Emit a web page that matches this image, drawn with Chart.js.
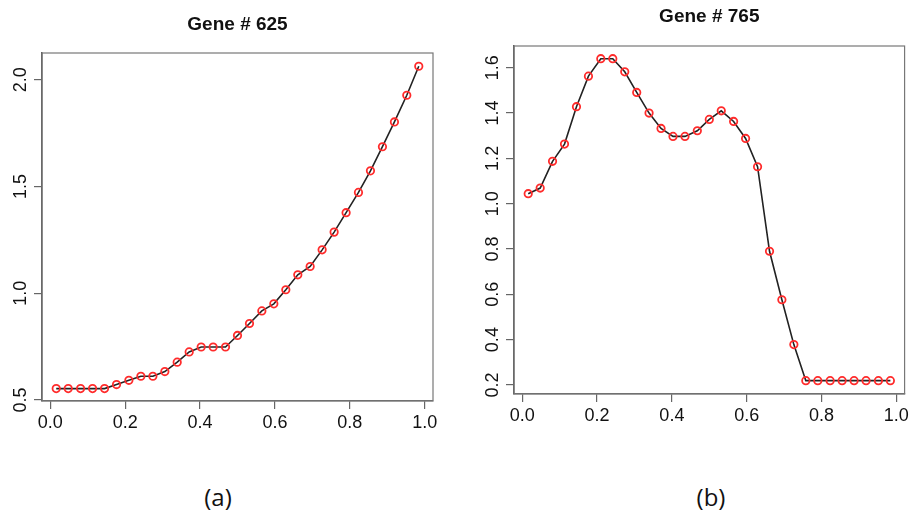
<!DOCTYPE html>
<html>
<head>
<meta charset="utf-8">
<script src="https://cdn.jsdelivr.net/npm/chart.js@4.4.1/dist/chart.umd.min.js"></script>
<style>
  body { margin: 0; background: #fff; width: 912px; height: 518px; position: relative; overflow: hidden; }
  canvas { position: absolute; top: 0; }
  #c1 { left: 0; }
  #c2 { left: 456px; }
  .panel { position: absolute; top: 480px; font-family: "Open Sans", sans-serif; font-size: 24px; color: #111; transform: translateX(-50%); }
</style>
</head>
<body>
<canvas id="c1" width="450" height="440"></canvas>
<canvas id="c2" width="456" height="440"></canvas>
<div class="panel" style="left:218px">(a)</div>
<div class="panel" style="left:711px">(b)</div>
<script>
// sample positions (shared by both genes)
const xs = [0.016, 0.048, 0.081, 0.113, 0.145, 0.177, 0.210, 0.242, 0.274, 0.306, 0.339,
            0.371, 0.403, 0.435, 0.468, 0.500, 0.532, 0.565, 0.597, 0.629, 0.661, 0.694,
            0.726, 0.758, 0.790, 0.823, 0.855, 0.887, 0.919, 0.952, 0.984];

const gene625 = [0.553, 0.553, 0.553, 0.553, 0.553, 0.572, 0.592, 0.611, 0.611, 0.633, 0.677,
                 0.725, 0.748, 0.748, 0.748, 0.802, 0.858, 0.917, 0.950, 1.016, 1.086, 1.125,
                 1.203, 1.286, 1.377, 1.472, 1.573, 1.686, 1.802, 1.927, 2.063];

const gene765 = [1.044, 1.069, 1.187, 1.263, 1.428, 1.563, 1.640, 1.640, 1.582, 1.491, 1.400,
                 1.332, 1.297, 1.297, 1.322, 1.372, 1.410, 1.363, 1.288, 1.163, 0.790, 0.576,
                 0.378, 0.219, 0.219, 0.219, 0.219, 0.219, 0.219, 0.219, 0.219];

const xTicks = [0, 0.2, 0.4, 0.6, 0.8, 1.0];
const xTickLabels = ['0.0', '0.2', '0.4', '0.6', '0.8', '1.0'];
const yTicks625 = [0.5, 1.0, 1.5, 2.0];
const yTickLabels625 = ['0.5', '1.0', '1.5', '2.0'];
const yTicks765 = [0.2, 0.4, 0.6, 0.8, 1.0, 1.2, 1.4, 1.6];
const yTickLabels765 = ['0.2', '0.4', '0.6', '0.8', '1.0', '1.2', '1.4', '1.6'];

const FONT = '"Liberation Sans", Arial, sans-serif';

// R-like frame: box, rotated y labels, title
const rFrame = {
  id: 'rFrame',
  afterDraw(chart, args, opts) {
    const ctx = chart.ctx;
    const a = chart.chartArea;
    ctx.save();
    ctx.strokeStyle = '#777';
    ctx.lineWidth = 1.2;
    ctx.strokeRect(a.left, a.top, a.right - a.left, a.bottom - a.top);

    const y = chart.scales.y;
    ctx.fillStyle = '#111';
    ctx.font = '18px ' + FONT;
    ctx.textAlign = 'center';
    ctx.textBaseline = 'middle';
    y.ticks.forEach((t, i) => {
      ctx.save();
      ctx.translate(a.left - 21, y.getPixelForValue(t.value));
      ctx.rotate(-Math.PI / 2);
      ctx.fillText(opts.yLabels[i], 0, 0);
      ctx.restore();
    });

    ctx.font = 'bold 19px ' + FONT;
    ctx.fillText(opts.title, (a.left + a.right) / 2, opts.titleY);
    ctx.restore();
  }
};

function makeChart(id, ys, yMin, yMax, yTicks, yLabels, title, titleY, area) {
  return new Chart(document.getElementById(id), {
    type: 'line',
    data: {
      datasets: [{
        data: xs.map((x, i) => ({ x: x, y: ys[i] })),
        borderColor: '#222',
        borderWidth: 1.6,
        tension: 0,
        pointStyle: 'circle',
        pointRadius: 3.7,
        pointBorderWidth: 1.8,
        pointBorderColor: '#ff2b2b',
        pointBackgroundColor: 'rgba(0,0,0,0)'
      }]
    },
    plugins: [rFrame],
    options: {
      responsive: false,
      animation: false,
      layout: { padding: { top: area.top, right: area.right, left: 0, bottom: 0 } },
      plugins: {
        legend: { display: false },
        tooltip: { enabled: false },
        rFrame: { title: title, titleY: titleY, yLabels: yLabels }
      },
      scales: {
        x: {
          type: 'linear',
          min: -0.022,
          max: 1.022,
          afterBuildTicks: s => { s.ticks = xTicks.map(v => ({ value: v })); },
          afterFit: s => { s.height = area.xh; },
          grid: { drawOnChartArea: false, drawTicks: true, tickLength: 8, color: '#666', lineWidth: 1.2 },
          border: { display: true, color: '#666', width: 1.2 },
          ticks: {
            color: '#111',
            padding: 3,
            maxRotation: 0,
            font: { family: FONT, size: 18 },
            callback: (v, i) => xTickLabels[i]
          }
        },
        y: {
          type: 'linear',
          min: yMin,
          max: yMax,
          afterBuildTicks: s => { s.ticks = yTicks.map(v => ({ value: v })); },
          afterFit: s => { s.width = area.yw; },
          grid: { drawOnChartArea: false, drawTicks: true, tickLength: 8, color: '#666', lineWidth: 1.2 },
          border: { display: true, color: '#555', width: 1.5 },
          ticks: { display: false }
        }
      }
    }
  });
}

makeChart('c1', gene625, 0.495, 2.125, yTicks625, yTickLabels625, 'Gene # 625', 25,
  { top: 53, right: 17, xh: 39, yw: 42 });
makeChart('c2', gene765, 0.160, 1.696, yTicks765, yTickLabels765, 'Gene # 765', 17,
  { top: 46, right: 6, xh: 46, yw: 58 });
</script>
</body>
</html>
